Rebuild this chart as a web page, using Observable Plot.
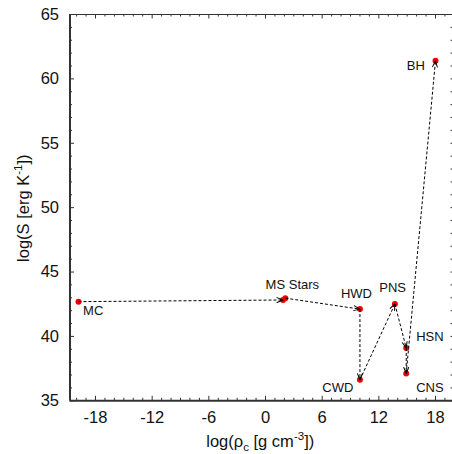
<!DOCTYPE html>
<html>
<head>
<meta charset="utf-8">
<script src="https://cdn.jsdelivr.net/npm/d3@7"></script>
<script src="https://cdn.jsdelivr.net/npm/@observablehq/plot@0.6"></script>
<style>
  html, body { margin: 0; padding: 0; background: #fff; }
  #chart svg { display: block; }
</style>
</head>
<body>
<div id="chart"></div>
<script>
// ---- data ----
const stages = ["MC", "MS1", "MS2", "HWD", "CWD", "PNS", "HSN", "CNS", "BH"];
const logRho = [-19.8, 1.85, 2.1, 10.0, 10.0, 13.7, 14.9, 14.9, 18.0];
const logS   = [42.7, 42.83, 42.97, 42.12, 36.63, 42.52, 39.1, 37.12, 61.4];

const arrowFrom = ["MC", "MS2", "HWD", "CWD", "PNS", "HSN", "CNS"];
const arrowTo   = ["MS1", "HWD", "CWD", "PNS", "HSN", "CNS", "BH"];

const labelText  = ["MC", "MS Stars", "HWD", "CWD", "PNS", "HSN", "CNS", "BH"];
const labelStage = ["MC", "MS2", "HWD", "CWD", "PNS", "HSN", "CNS", "BH"];

const xTicks = [-18, -12, -6, 0, 6, 12, 18];
const yTicks = [35, 40, 45, 50, 55, 60, 65];

// ---- layout/style (not data) ----
const labelLayout = {
  "MC":       {dx: 4.6,  dy: 9.3,  anchor: "start"},
  "MS Stars": {dx: 7,    dy: -13,  anchor: "middle"},
  "HWD":      {dx: -3.5, dy: -15,  anchor: "middle"},
  "CWD":      {dx: -6.6, dy: 8,    anchor: "end"},
  "PNS":      {dx: -2.3, dy: -16,  anchor: "middle"},
  "HSN":      {dx: 10,   dy: -11.6,anchor: "start"},
  "CNS":      {dx: 10,   dy: 14.6, anchor: "start"},
  "BH":       {dx: -10.7,dy: 5,    anchor: "end"}
};

const points = stages.map((s, i) => ({stage: s, x: logRho[i], y: logS[i]}));
const byStage = new Map(points.map(p => [p.stage, p]));
const links = arrowFrom.map((f, i) => ({a: byStage.get(f), b: byStage.get(arrowTo[i])}));
const labels = labelText.map((t, i) => ({text: t, ...byStage.get(labelStage[i])}));

const xMinor = d3.range(-20, 20).filter(v => !xTicks.includes(v));
const yMinor = d3.range(36, 65).filter(v => !yTicks.includes(v));

const W = 452, H = 454, mL = 69.5, mR = 0, mT = 14, mB = 53.7;
const iW = W - mL - mR, iH = H - mT - mB;
const frameColor = "#333";
const majLen = 4.5, minLen = 2.5;
const fmt = d => String(d);

const plot = Plot.plot({
  width: W, height: H,
  marginLeft: mL, marginRight: mR, marginTop: mT, marginBottom: mB,
  x: {domain: [-20.7, 19.8]},
  y: {domain: [35, 65]},
  style: {fontFamily: "'Liberation Sans', Arial, sans-serif", background: "#fff", color: "#111"},
  marks: [
    // minor & major ticks, inward, on all four sides
    Plot.tickX(xMinor, {x: d => d, insetTop: iH - minLen, stroke: frameColor}),
    Plot.tickX(xTicks, {x: d => d, insetTop: iH - majLen, stroke: frameColor}),
    Plot.tickX(xMinor, {x: d => d, insetBottom: iH - minLen, stroke: frameColor}),
    Plot.tickX(xTicks, {x: d => d, insetBottom: iH - majLen, stroke: frameColor}),
    Plot.tickY(yMinor, {y: d => d, insetRight: iW - minLen, stroke: frameColor}),
    Plot.tickY(yTicks, {y: d => d, insetRight: iW - majLen, stroke: frameColor}),
    Plot.tickY(yMinor, {y: d => d, insetLeft: iW - 1.5, stroke: frameColor}),
    Plot.tickY(yTicks, {y: d => d, insetLeft: iW - 1.5, stroke: frameColor}),
    // frame
    Plot.ruleY([65], {stroke: frameColor, strokeWidth: 1.2}),
    Plot.ruleY([35], {stroke: frameColor, strokeWidth: 2}),
    Plot.ruleX([-20.7], {stroke: frameColor, strokeWidth: 2}),
    // axes
    Plot.axisX(xTicks, {tickSize: 0, tickPadding: 10, fontSize: 16.5, label: null, fill: "#111", tickFormat: fmt}),
    Plot.axisY(yTicks, {tickSize: 0, tickPadding: 11, fontSize: 16.5, label: null, fill: "#111", tickFormat: fmt}),
    // points
    Plot.dot(points, {x: "x", y: "y", r: 3, fill: "#ee0000", stroke: "none"}),
    // dashed arrows
    Plot.link(links, {
      x1: d => d.a.x, y1: d => d.a.y, x2: d => d.b.x, y2: d => d.b.y,
      stroke: "#000", strokeWidth: 1, strokeDasharray: "3,2", markerEnd: "arrow"
    }),
    // labels
    ...labels.map(l => Plot.text([l], {
      x: "x", y: "y", text: "text",
      dx: labelLayout[l.text].dx, dy: labelLayout[l.text].dy,
      textAnchor: labelLayout[l.text].anchor,
      fontSize: 13, fill: "#111"
    }))
  ]
});

// tweak arrowheads: solid, longer open chevrons
d3.select(plot).selectAll("marker")
  .attr("overflow", "visible")
  .selectAll("path")
  .attr("d", "M-9,-3.6L0,0L-9,3.6")
  .attr("stroke-dasharray", "none")
  .style("stroke-dasharray", "none");

// axis titles with sub/superscripts
const svg = d3.select(plot);
const fs = 16.5;
const xt = svg.append("text")
  .attr("x", mL + iW / 2 - 0.5).attr("y", 446.7)
  .attr("text-anchor", "middle")
  .attr("font-size", fs).attr("fill", "#111");
xt.append("tspan").text("log(ρ");
xt.append("tspan").attr("font-size", fs * 0.7).attr("dy", 4).text("c");
xt.append("tspan").attr("dy", -4).text(" [g cm");
xt.append("tspan").attr("font-size", fs * 0.7).attr("dy", -7).text("-3");
xt.append("tspan").attr("dy", 7).text("])");

const yt = svg.append("text")
  .attr("transform", `translate(28.5,${mT + iH / 2 + 1}) rotate(-90)`)
  .attr("text-anchor", "middle")
  .attr("font-size", fs).attr("fill", "#111");
yt.append("tspan").text("log(S [erg K");
yt.append("tspan").attr("font-size", fs * 0.7).attr("dy", -7).text("-1");
yt.append("tspan").attr("dy", 7).text("])");

document.getElementById("chart").appendChild(plot);
</script>
</body>
</html>
